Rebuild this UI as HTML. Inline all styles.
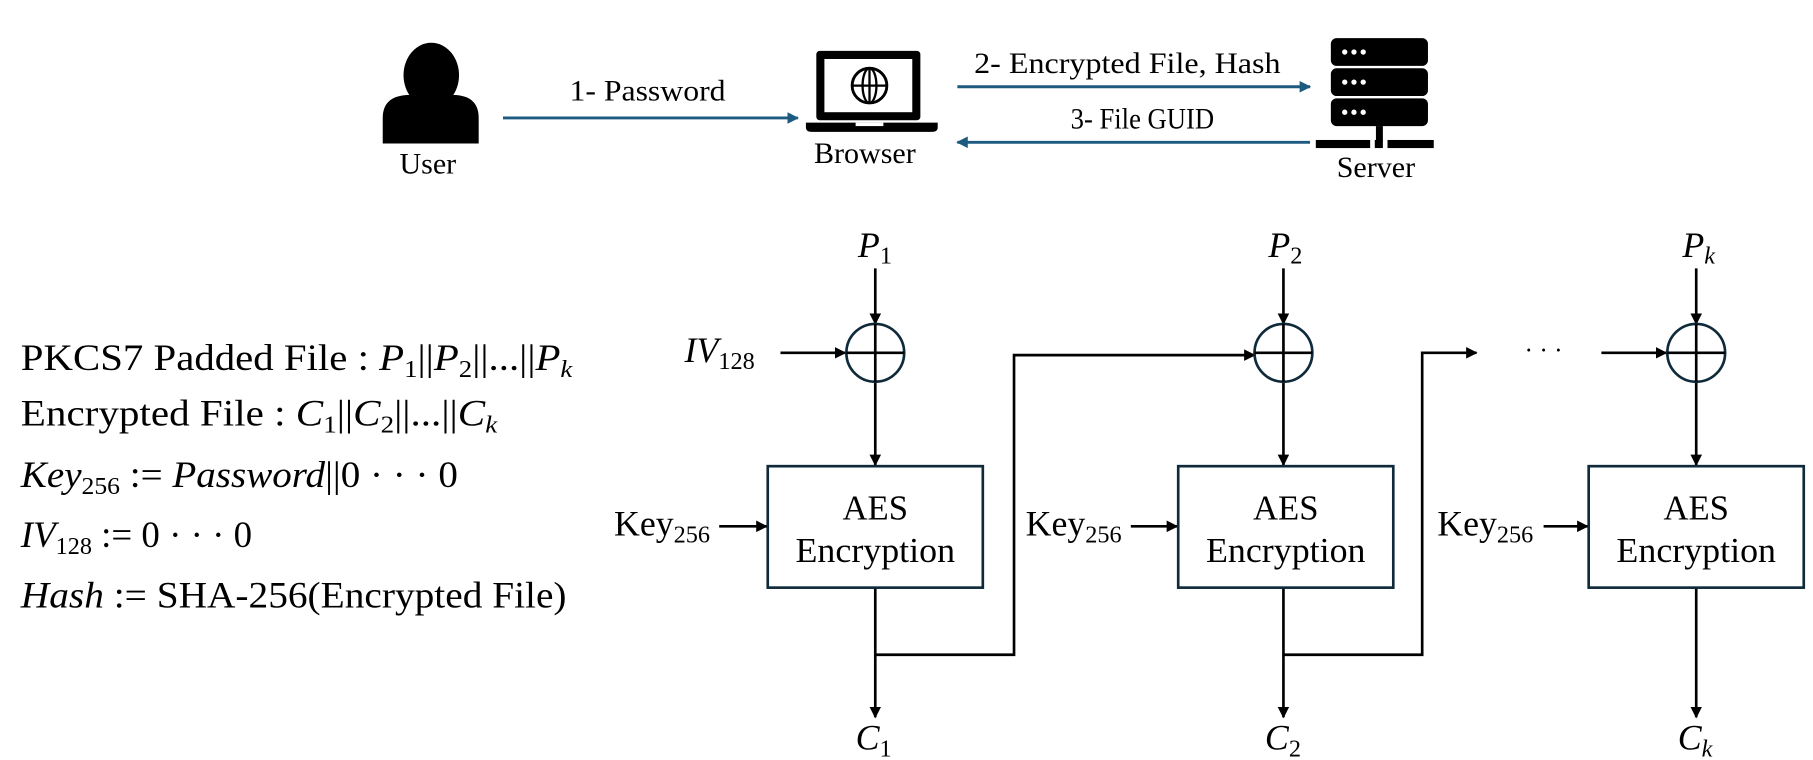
<!DOCTYPE html>
<html><head><meta charset="utf-8"><style>
html,body{margin:0;padding:0;background:#fff;}
svg{display:block;}
text{font-family:"Liberation Serif",serif;fill:#000;}
.it{font-style:italic;}
</style></head><body>
<svg width="1813" height="760" viewBox="0 0 1568 657" preserveAspectRatio="none" xmlns="http://www.w3.org/2000/svg">
<defs>
<marker id="ab" markerWidth="10" markerHeight="10" refX="9" refY="5" orient="auto" markerUnits="userSpaceOnUse"><path d="M0,0 L10,5 L0,10 Z" fill="#1d5a80"/></marker>
<marker id="ak" markerWidth="10" markerHeight="10" refX="9" refY="5" orient="auto" markerUnits="userSpaceOnUse"><path d="M0,0 L10,5 L0,10 Z" fill="#000"/></marker>
</defs>
<ellipse cx="373" cy="65" rx="24" ry="28" fill="#000"/>
<path d="M331,124 L331,102 Q331,82 355,82 L391,82 Q414,82 414,102 L414,124 Z" fill="#000"/>
<text x="370" y="150" font-size="26" text-anchor="middle">User</text>
<line x1="435" y1="102" x2="690" y2="102" stroke="#1d5a80" stroke-width="2.5" marker-end="url(#ab)"/>
<text x="560" y="87" font-size="26" text-anchor="middle" textLength="135" lengthAdjust="spacingAndGlyphs">1- Password</text>
<rect x="706" y="44" width="90" height="60" rx="3" fill="#000"/>
<rect x="713" y="51" width="76" height="46" fill="#fff"/>
<circle cx="752" cy="74" r="15" fill="none" stroke="#000" stroke-width="2.5"/>
<ellipse cx="752" cy="74" rx="6" ry="15" fill="none" stroke="#000" stroke-width="2"/>
<line x1="737" y1="74" x2="767" y2="74" stroke="#000" stroke-width="2"/>
<line x1="752" y1="59" x2="752" y2="89" stroke="#000" stroke-width="2"/>
<path d="M697,106 L811,106 L811,110 Q811,114 806,114 L702,114 Q697,114 697,110 Z" fill="#000"/>
<rect x="740" y="106" width="24" height="3" fill="#fff"/>
<text x="748" y="141" font-size="26" text-anchor="middle">Browser</text>
<line x1="828" y1="75" x2="1133" y2="75" stroke="#1d5a80" stroke-width="2.5" marker-end="url(#ab)"/>
<text x="975" y="63" font-size="26" text-anchor="middle" textLength="265" lengthAdjust="spacingAndGlyphs">2- Encrypted File, Hash</text>
<line x1="1133" y1="123" x2="828" y2="123" stroke="#1d5a80" stroke-width="2.5" marker-end="url(#ab)"/>
<text x="988" y="111" font-size="26" text-anchor="middle" textLength="124" lengthAdjust="spacingAndGlyphs">3- File GUID</text>
<g fill="#000">
<rect x="1151" y="33" width="84" height="24" rx="5"/>
<rect x="1151" y="59" width="84" height="24" rx="5"/>
<rect x="1151" y="85" width="84" height="24" rx="5"/>
<rect x="1190" y="109" width="6" height="13"/>
<rect x="1138" y="121" width="47" height="7"/>
<rect x="1189" y="121" width="7" height="7"/>
<rect x="1200" y="121" width="40" height="7"/>
</g>
<g fill="#fff">
<circle cx="1163" cy="45" r="2.3"/><circle cx="1171" cy="45" r="2.3"/><circle cx="1179" cy="45" r="2.3"/>
<circle cx="1163" cy="71" r="2.3"/><circle cx="1171" cy="71" r="2.3"/><circle cx="1179" cy="71" r="2.3"/>
<circle cx="1163" cy="97" r="2.3"/><circle cx="1171" cy="97" r="2.3"/><circle cx="1179" cy="97" r="2.3"/>
</g>
<text x="1190" y="153" font-size="26" text-anchor="middle">Server</text>

<g font-size="32">
<text x="18" y="320" textLength="477" lengthAdjust="spacingAndGlyphs">PKCS7 Padded File : <tspan class="it">P</tspan><tspan font-size="21" dy="6">1</tspan><tspan dy="-6">||</tspan><tspan class="it">P</tspan><tspan font-size="21" dy="6">2</tspan><tspan dy="-6">||...||</tspan><tspan class="it">P</tspan><tspan class="it" font-size="21" dy="6">k</tspan></text>
<text x="18" y="368" textLength="412" lengthAdjust="spacingAndGlyphs">Encrypted File : <tspan class="it">C</tspan><tspan font-size="21" dy="6">1</tspan><tspan dy="-6">||</tspan><tspan class="it">C</tspan><tspan font-size="21" dy="6">2</tspan><tspan dy="-6">||...||</tspan><tspan class="it">C</tspan><tspan class="it" font-size="21" dy="6">k</tspan></text>
<text x="18" y="421" textLength="378" lengthAdjust="spacingAndGlyphs"><tspan class="it">Key</tspan><tspan font-size="21" dy="6">256</tspan><tspan dy="-6"> := </tspan><tspan class="it">Password</tspan>||0 · · · 0</text>
<text x="18" y="473" textLength="200" lengthAdjust="spacingAndGlyphs"><tspan class="it">IV</tspan><tspan font-size="21" dy="6">128</tspan><tspan dy="-6"> := 0 · · · 0</tspan></text>
<text x="18" y="525" textLength="472" lengthAdjust="spacingAndGlyphs"><tspan class="it">Hash</tspan> := SHA-256(Encrypted File)</text>
</g>

<g stroke="#000" stroke-width="2.3" fill="none">
<line x1="757" y1="232" x2="757" y2="280" marker-end="url(#ak)"/>
<line x1="675" y1="305" x2="731" y2="305" marker-end="url(#ak)"/>
<line x1="757" y1="330" x2="757" y2="402" marker-end="url(#ak)"/>
<line x1="622" y1="455" x2="663" y2="455" marker-end="url(#ak)"/>
<line x1="757" y1="508" x2="757" y2="620" marker-end="url(#ak)"/>
<polyline points="757,566 877,566 877,307 1085,307" marker-end="url(#ak)"/>
<line x1="1110" y1="232" x2="1110" y2="280" marker-end="url(#ak)"/>
<line x1="1110" y1="330" x2="1110" y2="402" marker-end="url(#ak)"/>
<line x1="978" y1="455" x2="1018" y2="455" marker-end="url(#ak)"/>
<line x1="1110" y1="508" x2="1110" y2="620" marker-end="url(#ak)"/>
<polyline points="1110,566 1230,566 1230,305 1277,305" marker-end="url(#ak)"/>
<line x1="1467" y1="232" x2="1467" y2="280" marker-end="url(#ak)"/>
<line x1="1385" y1="305" x2="1441" y2="305" marker-end="url(#ak)"/>
<line x1="1467" y1="330" x2="1467" y2="402" marker-end="url(#ak)"/>
<line x1="1335" y1="455" x2="1373" y2="455" marker-end="url(#ak)"/>
<line x1="1467" y1="508" x2="1467" y2="620" marker-end="url(#ak)"/>
</g>
<g stroke="#0f2a3a" stroke-width="2.3" fill="none">
<circle cx="757" cy="305" r="25"/><circle cx="1110" cy="305" r="25"/><circle cx="1467" cy="305" r="25"/>
<rect x="664" y="403" width="186" height="105"/>
<rect x="1019" y="403" width="186" height="105"/>
<rect x="1374" y="403" width="186" height="105"/>
</g>
<g stroke="#000" stroke-width="2.3">
<line x1="732" y1="305" x2="782" y2="305"/><line x1="757" y1="280" x2="757" y2="330"/>
<line x1="1085" y1="305" x2="1135" y2="305"/><line x1="1110" y1="280" x2="1110" y2="330"/>
<line x1="1442" y1="305" x2="1492" y2="305"/><line x1="1467" y1="280" x2="1467" y2="330"/>
</g>
<text x="1335" y="310" font-size="22" text-anchor="middle">· · ·</text>
<g font-size="30" text-anchor="middle">
<text x="757" y="449">AES</text><text x="757" y="486" textLength="138" lengthAdjust="spacingAndGlyphs">Encryption</text>
<text x="1112" y="449">AES</text><text x="1112" y="486" textLength="138" lengthAdjust="spacingAndGlyphs">Encryption</text>
<text x="1467" y="449">AES</text><text x="1467" y="486" textLength="138" lengthAdjust="spacingAndGlyphs">Encryption</text>
</g>
<g font-size="31">
<text x="531" y="463">Key<tspan font-size="21" dy="6">256</tspan></text>
<text x="887" y="463">Key<tspan font-size="21" dy="6">256</tspan></text>
<text x="1243" y="463">Key<tspan font-size="21" dy="6">256</tspan></text>
<text x="592" y="313" class="it">IV<tspan font-size="21" dy="6" font-style="normal">128</tspan></text>
<text x="742" y="222" class="it">P<tspan font-size="21" dy="6" font-style="normal">1</tspan></text>
<text x="1097" y="222" class="it">P<tspan font-size="21" dy="6" font-style="normal">2</tspan></text>
<text x="1455" y="222" class="it">P<tspan font-size="21" dy="6">k</tspan></text>
<text x="740" y="648" class="it">C<tspan font-size="21" dy="6" font-style="normal">1</tspan></text>
<text x="1094" y="648" class="it">C<tspan font-size="21" dy="6" font-style="normal">2</tspan></text>
<text x="1451" y="648" class="it">C<tspan font-size="21" dy="6">k</tspan></text>
</g>
</svg>
</body></html>
